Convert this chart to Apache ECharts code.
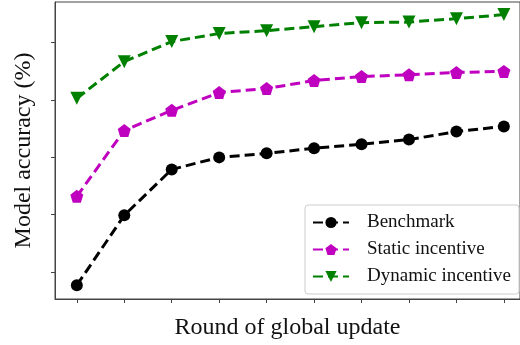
<!DOCTYPE html>
<html>
<head>
<meta charset="utf-8">
<script src="https://cdn.jsdelivr.net/npm/echarts@6/dist/echarts.min.js"></script>
<style>
  html, body { margin: 0; padding: 0; background: #fff; }
  #chart { width: 520px; height: 345px; }
</style>
</head>
<body>
<div id="chart"></div>
<script>
// rounds of global update (x positions)
var rounds = [1, 2, 3, 4, 5, 6, 7, 8, 9, 10];
// accuracy values (arbitrary units, no tick labels shown)
var benchmark = [7.7, 19.9, 27.9, 30.0, 30.7, 31.6, 32.3, 33.1, 34.5, 35.4];
var staticInc = [23.2, 34.7, 38.2, 41.3, 42.0, 43.4, 44.1, 44.4, 44.8, 45.0];
var dynamicInc = [40.3, 46.7, 50.2, 51.6, 52.1, 52.8, 53.5, 53.6, 54.2, 54.9];
var yTicks = [10, 20, 30, 40, 50];

var pentagon = 'path://M0,-10 L9.51,-3.09 L5.88,8.09 L-5.88,8.09 L-9.51,-3.09 Z';

function pairs(vals) {
    return rounds.map(function (r, i) { return [r, vals[i]]; });
}

function mkSeries(name, vals, color, symbol, size, rotate) {
    return {
        name: name,
        type: 'line',
        data: pairs(vals),
        symbol: symbol,
        symbolSize: size,
        symbolRotate: rotate || 0,
        showSymbol: true,
        color: color,
        itemStyle: { color: color },
        lineStyle: { color: color, width: 3, type: [10, 5] },
        animation: false
    };
}

var chart = echarts.init(document.getElementById('chart'));
chart.setOption({
    backgroundColor: '#fff',
    textStyle: { fontFamily: 'Liberation Serif' },
    grid: {
        left: 55, top: 2, right: -2, bottom: 45,
        show: true, borderColor: '#444', borderWidth: 1
    },
    legend: {
        orient: 'vertical',
        left: 305, top: 205,
        padding: [8, 8, 8, 7],
        itemWidth: 36, itemHeight: 14, itemGap: 8,
        borderColor: '#ccc', borderWidth: 1, borderRadius: 3,
        backgroundColor: '#fff',
        textStyle: { fontFamily: 'Liberation Serif', fontSize: 19, color: '#111', padding: [0, 0, 0, 13] },
        data: ['Benchmark', 'Static incentive', 'Dynamic incentive']
    },
    xAxis: {
        type: 'value',
        min: 0.54, max: 10.34,
        name: 'Round of global update',
        nameLocation: 'middle',
        nameGap: 17,
        nameTextStyle: { fontFamily: 'Liberation Serif', fontSize: 24, color: '#111', verticalAlign: 'top' },
        axisLine: { show: true, onZero: false, lineStyle: { color: '#444' } },
        axisTick: { show: true, inside: false, length: 4, customValues: rounds, lineStyle: { color: '#444' } },
        axisLabel: { show: false },
        splitLine: { show: false }
    },
    yAxis: {
        type: 'value',
        min: 5.3, max: 57.1,
        name: 'Model accuracy (%)',
        nameLocation: 'middle',
        nameGap: 19,
        nameTextStyle: { fontFamily: 'Liberation Serif', fontSize: 24, color: '#111' },
        axisLine: { show: true, lineStyle: { color: '#444' } },
        axisTick: { show: true, inside: false, length: 4, customValues: yTicks, lineStyle: { color: '#444' } },
        axisLabel: { show: false },
        splitLine: { show: false }
    },
    series: [
        mkSeries('Benchmark', benchmark, '#000000', 'circle', 12),
        mkSeries('Static incentive', staticInc, '#bf00bf', pentagon, 13),
        mkSeries('Dynamic incentive', dynamicInc, '#008000', 'triangle', 13, 180)
    ]
});
</script>
</body>
</html>
